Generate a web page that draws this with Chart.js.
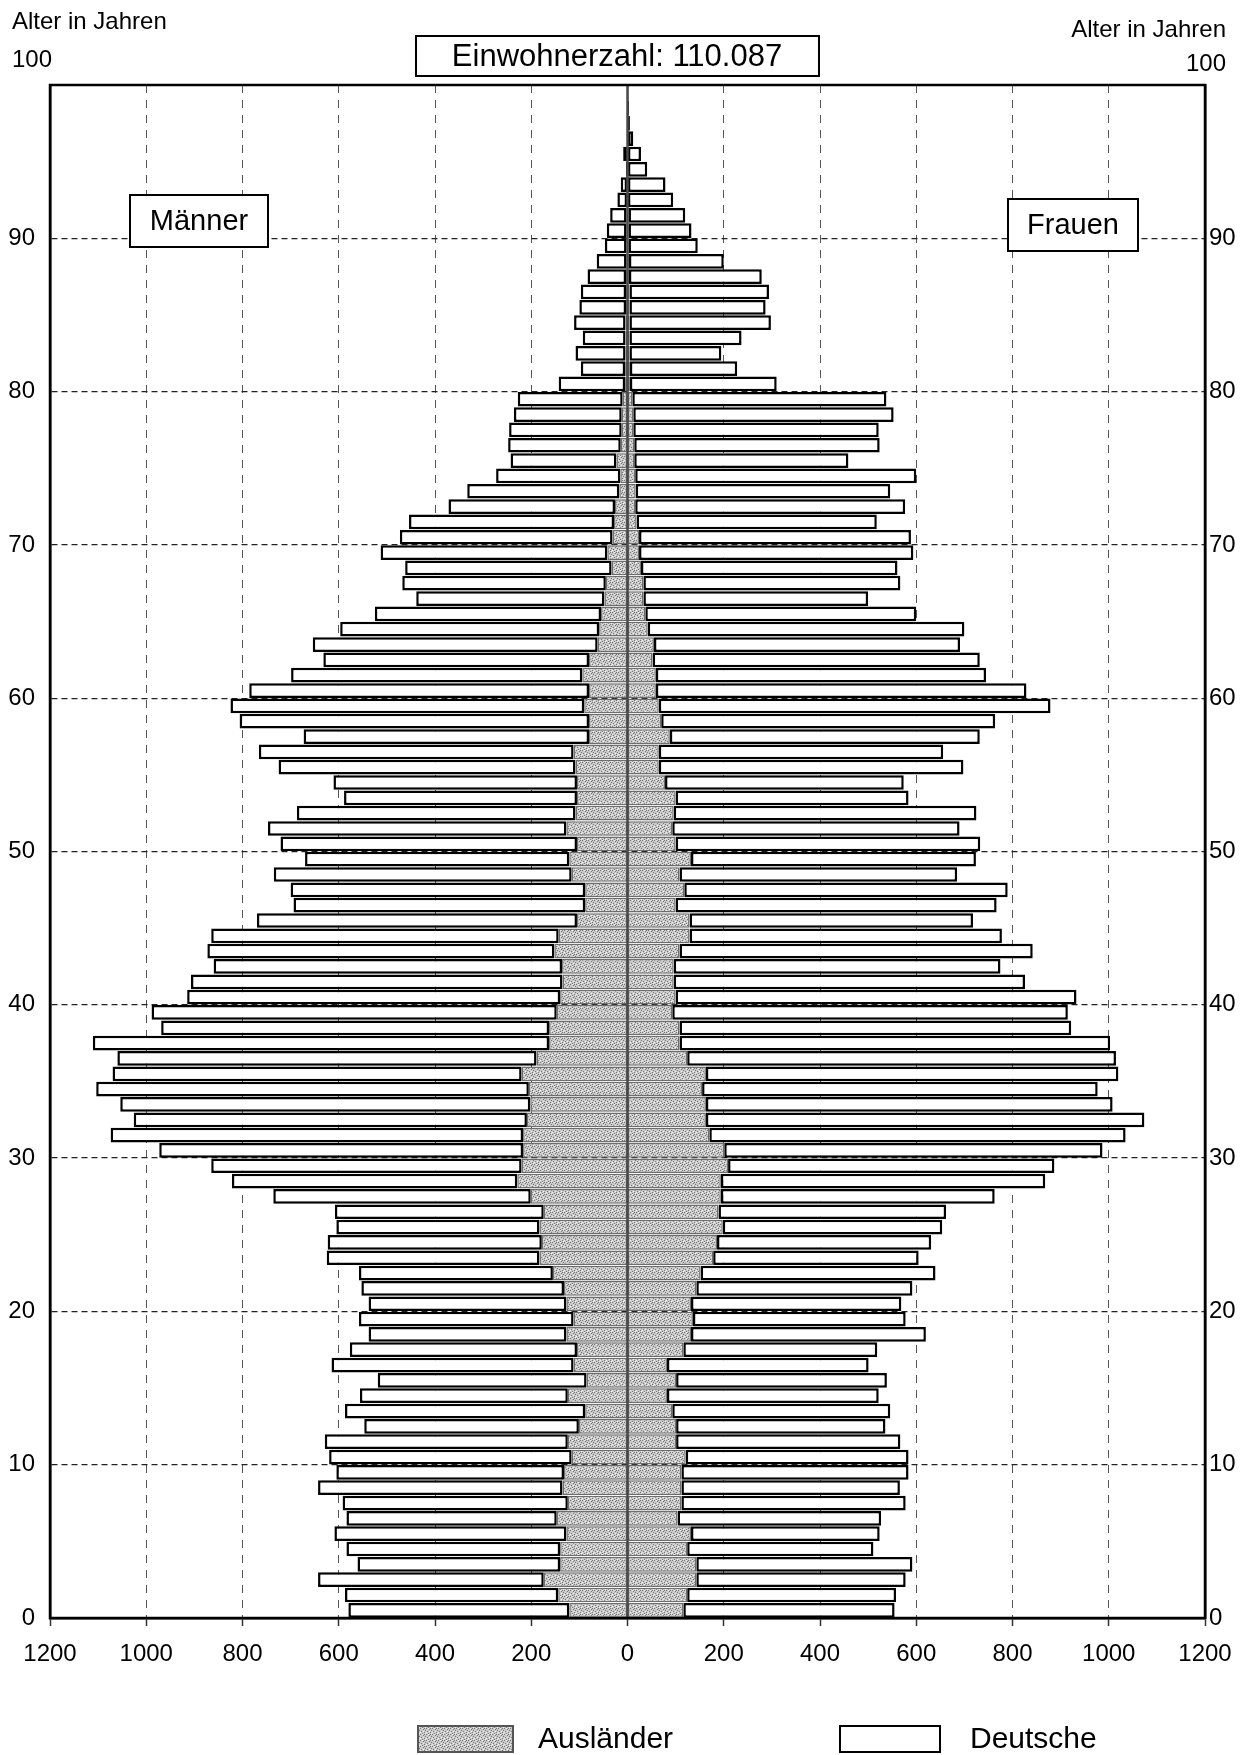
<!DOCTYPE html>
<html><head><meta charset="utf-8">
<script src="https://cdn.jsdelivr.net/npm/chart.js@4.4.1/dist/chart.umd.min.js"></script>
<style>html,body{margin:0;padding:0;background:#fff}#wrap{width:1248px;height:1755px;position:relative}</style>
</head><body><div id="wrap"><canvas id="c" width="1248" height="1755"></canvas></div>
<script>
// Altersjahre 0..99
const ages = Array.from({length: 100}, (_, i) => i);
const xTickValues = [-1200,-1000,-800,-600,-400,-200,0,200,400,600,800,1000,1200];
const ageTickValues = [0,10,20,30,40,50,60,70,80,90,100];

const maennerAuslaender = [121,144,174,140,140,127,147,124,135,132, 116,124,101,88,124,85,112,105,127,112, 127,132,155,183,178,183,174,201,229,220, 217,217,209,202,205,220,189,163,163,147, 140,135,136,152,143,105,88,88,116,121, 105,127,108,105,105,108,112,80,80,90, 80,94,80,62,59,55,48,45,33,42, 31,28,26,17,15,23,14,12,12,10, 5,5,4,4,4,3,3,3,2,2, 2,2,1,1,0,0,0,0,0,0];
const maennerDeutsche = [459,443,469,421,444,482,437,468,508,473, 504,505,446,499,432,434,503,472,411,446, 411,421,403,442,445,422,434,535,593,645, 756,857,817,852,899,850,871,948,806,842, 775,772,724,721,722,665,606,612,619,549, 616,620,579,484,506,617,654,593,726,735, 706,605,552,592,538,470,391,423,429,471, 442,426,346,316,258,220,234,234,224,218, 138,92,104,89,107,97,94,80,62,45, 41,34,20,13,3,9,1,1,0,0];
const frauenAuslaender = [116,124,143,143,124,132,104,112,112,112, 121,101,101,93,82,101,82,116,132,136, 132,143,152,178,186,198,189,194,194,209, 201,170,163,163,155,163,124,108,108,93, 100,96,96,108,129,129,100,118,108,132, 100,93,96,100,78,65,65,88,70,65, 59,59,52,55,42,37,33,33,28,24, 24,19,16,17,16,14,14,12,12,10, 5,5,4,4,4,4,4,3,3,2, 2,2,1,1,1,0,0,0,0,0];
const frauenDeutsche = [439,434,435,449,387,392,423,466,454,472, 463,466,435,453,440,438,419,403,488,442, 437,449,488,427,445,456,473,569,674,678, 786,865,911,845,822,857,891,895,814,822, 833,730,679,734,649,589,667,672,577,592, 633,597,629,484,496,633,591,644,694,814, 770,686,680,636,658,563,467,534,533,570, 565,499,561,529,584,445,510,510,541,528, 305,223,191,233,294,283,290,276,197,144, 131,118,94,78,40,28,12,5,3,2];

const FONT = "'Liberation Sans', Arial, sans-serif";

// stipple pattern for Ausländer
function makePattern() {
  const p = document.createElement('canvas');
  p.width = 6; p.height = 6;
  const g = p.getContext('2d');
  g.fillStyle = '#c9c9c9'; g.fillRect(0, 0, 6, 6);
  g.fillStyle = '#7a7a7a';
  [[0,0],[3,1],[1,3],[4,4],[5,2],[2,5],[4,0]].forEach(([x,y]) => g.fillRect(x, y, 1, 1));
  g.fillStyle = '#ededed';
  [[2,0],[5,5],[0,4],[3,3]].forEach(([x,y]) => g.fillRect(x, y, 1, 1));
  return document.getElementById('c').getContext('2d').createPattern(p, 'repeat');
}
const grayPattern = makePattern();

const auslStyle = {backgroundColor: grayPattern, borderColor: '#6e6e6e', borderWidth: 1.5, borderSkipped: false};
const deutStyle = {backgroundColor: '#ffffff', borderColor: '#000000', borderWidth: 2.5, borderSkipped: false};

const datasets = [
  Object.assign({label: 'Ausländer', stack: 'p', data: ages.map((a, i) => ({x: -maennerAuslaender[i], y: a + 0.5}))}, auslStyle),
  Object.assign({label: 'Deutsche', stack: 'p', data: ages.map((a, i) => ({x: -maennerDeutsche[i], y: a + 0.5}))}, deutStyle),
  Object.assign({label: 'Ausländer', stack: 'p', data: ages.map((a, i) => ({x: frauenAuslaender[i], y: a + 0.5}))}, auslStyle),
  Object.assign({label: 'Deutsche', stack: 'p', data: ages.map((a, i) => ({x: frauenDeutsche[i], y: a + 0.5}))}, deutStyle)
];

function txt(ctx, s, x, y, size, align) {
  ctx.font = size + 'px ' + FONT;
  ctx.fillStyle = '#000';
  ctx.textAlign = align || 'left';
  ctx.textBaseline = 'middle';
  ctx.fillText(s, x, y);
}
function box(ctx, x1, y1, x2, y2, lw) {
  ctx.fillStyle = '#fff';
  ctx.fillRect(x1, y1, x2 - x1, y2 - y1);
  ctx.strokeStyle = '#000';
  ctx.lineWidth = lw || 2;
  ctx.strokeRect(x1, y1, x2 - x1, y2 - y1);
}

const deco = {
  id: 'deco',
  beforeDraw(chart) {
    const ctx = chart.ctx;
    ctx.save(); ctx.fillStyle = '#fff'; ctx.fillRect(0, 0, chart.width, chart.height); ctx.restore();
  },
  afterDatasetsDraw(chart) {
    const {ctx, chartArea: a, scales} = chart;
    const x0 = scales.x.getPixelForValue(0);
    ctx.save();
    ctx.strokeStyle = '#4a4a4a'; ctx.lineWidth = 2.5; ctx.setLineDash([]);
    ctx.beginPath(); ctx.moveTo(x0, a.top); ctx.lineTo(x0, a.bottom); ctx.stroke();
    ctx.strokeStyle = '#000'; ctx.lineWidth = 2.5;
    ctx.strokeRect(a.left, a.top, a.right - a.left, a.bottom - a.top);

    txt(ctx, 'Alter in Jahren', 12, 22, 24, 'left');
    txt(ctx, '100', 12, 60, 24, 'left');
    txt(ctx, 'Alter in Jahren', 1226, 30, 24, 'right');
    txt(ctx, '100', 1226, 64, 24, 'right');

    box(ctx, 416, 36, 819, 76, 2);
    txt(ctx, 'Einwohnerzahl: 110.087', 617, 57, 31, 'center');

    box(ctx, 130, 195, 268, 247, 2);
    txt(ctx, 'Männer', 199, 222, 29, 'center');
    box(ctx, 1008, 199, 1138, 251, 2);
    txt(ctx, 'Frauen', 1073, 226, 29, 'center');

    // legend
    ctx.fillStyle = grayPattern; ctx.fillRect(418, 1726, 95, 26);
    ctx.strokeStyle = '#555'; ctx.lineWidth = 2; ctx.strokeRect(418, 1726, 95, 26);
    txt(ctx, 'Ausländer', 538, 1740, 30, 'left');
    box(ctx, 840, 1726, 940, 1752, 2);
    txt(ctx, 'Deutsche', 970, 1740, 30, 'left');
    ctx.restore();
  }
};

new Chart(document.getElementById('c'), {
  type: 'bar',
  data: {datasets},
  options: {
    indexAxis: 'y',
    responsive: false,
    devicePixelRatio: 1,
    animation: false,
    events: [],
    categoryPercentage: 1,
    barPercentage: 0.96,
    layout: {padding: {top: 85, left: 0, right: 0, bottom: 0}},
    plugins: {legend: {display: false}, tooltip: {enabled: false}, title: {display: false}},
    scales: {
      x: {
        type: 'linear', stacked: true, min: -1200, max: 1200, position: 'bottom',
        afterBuildTicks: s => { s.ticks = xTickValues.map(v => ({value: v})); },
        afterFit: s => { s.height = 137; },
        ticks: {callback: v => String(Math.abs(v)), font: {size: 24, family: FONT}, color: '#000', padding: 14, maxRotation: 0, autoSkip: false},
        grid: {color: '#555', lineWidth: 1, drawTicks: true, tickLength: 8, tickColor: '#333', tickWidth: 1.5},
        border: {display: true, color: '#000', width: 2.5, dash: [8, 7]}
      },
      y: {
        type: 'linear', min: 0, max: 100, position: 'left', offset: false,
        afterBuildTicks: s => { s.ticks = ageTickValues.map(v => ({value: v})); },
        afterFit: s => { s.width = 50; },
        ticks: {callback: v => v === 100 ? '' : String(v), font: {size: 24, family: FONT}, color: '#000', padding: 15, autoSkip: false},
        grid: {color: '#222', lineWidth: 1.3, drawTicks: false, offset: false},
        border: {display: true, color: '#000', width: 2.5, dash: [6, 4]}
      },
      y2: {
        type: 'linear', min: 0, max: 100, position: 'right', offset: false,
        afterBuildTicks: s => { s.ticks = ageTickValues.map(v => ({value: v})); },
        afterFit: s => { s.width = 43; },
        ticks: {callback: v => v === 100 ? '' : String(v), font: {size: 24, family: FONT}, color: '#000', padding: 4, autoSkip: false},
        grid: {display: false, drawTicks: false, offset: false},
        border: {display: true, color: '#000', width: 2.5}
      }
    }
  },
  plugins: [deco]
});
</script></body></html>
